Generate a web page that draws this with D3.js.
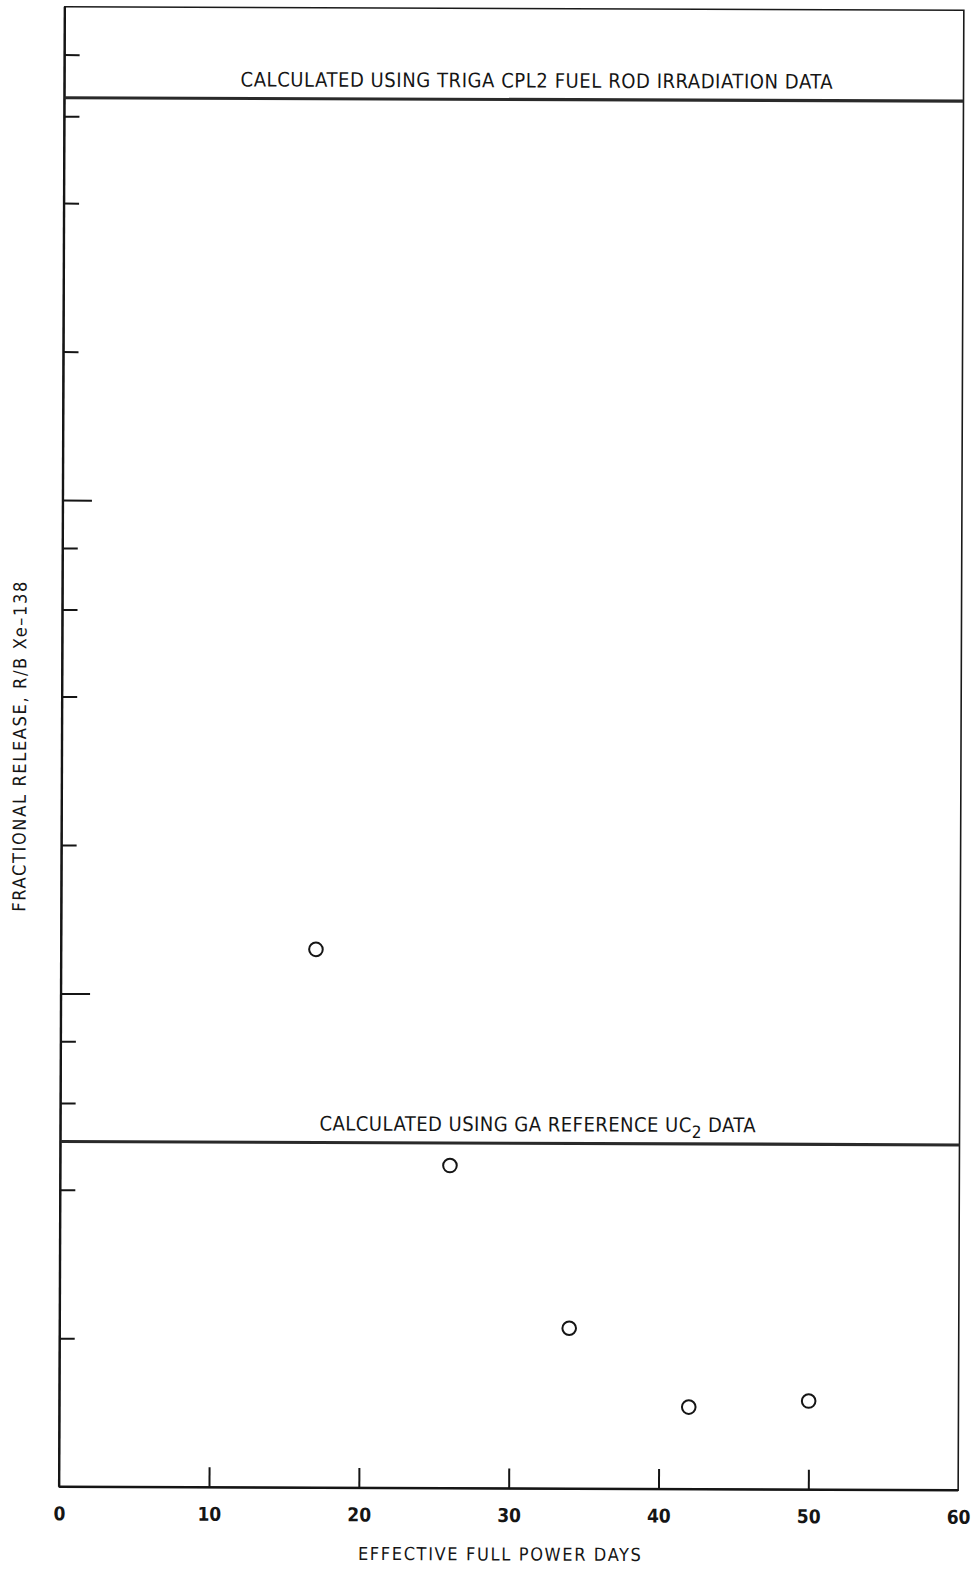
<!DOCTYPE html>
<html>
<head>
<meta charset="utf-8">
<script src="https://cdn.jsdelivr.net/npm/d3@7"></script>
<style>
  body { margin: 0; background: #fff; }
  text { font-family: "DejaVu Sans Condensed", "DejaVu Sans", sans-serif; font-stretch: condensed; fill: #151515; }
  .axis path { display: none; }
  .axis line { stroke: #151515; stroke-width: 2; }
</style>
</head>
<body>
<div id="plot"></div>
<script>
// measured points (effective full power days, R/B Xe-138)
var days = [17, 26, 34, 42, 50];
var release = [1.234e-5, 4.51e-6, 2.115e-6, 1.467e-6, 1.512e-6];

// calculated reference levels
var refLabels = ['CALCULATED USING TRIGA CPL2 FUEL ROD IRRADIATION DATA', 'CALCULATED USING GA REFERENCE UC|2| DATA'];
var refValues = [6.54e-4, 5.01e-6];

var xTicks = [0, 10, 20, 30, 40, 50, 60];
var yMajor = [1e-5, 1e-4];
var yMinor = [2e-6, 4e-6, 6e-6, 8e-6, 2e-5, 4e-5, 6e-5, 8e-5, 2e-4, 4e-4, 6e-4, 8e-4];

var margin = {top: 8.5, left: 62},
    plotWidth = 899,
    plotHeight = 1480,
    width = 973,
    height = 1571;

var xScale = d3.scaleLinear()
    .domain([0, 60])
    .range([0, plotWidth]);

var yScale = d3.scaleLog()
    .domain([1e-6, 1e-3])
    .range([plotHeight, 0]);

var svg = d3.select('#plot')
    .append('svg')
    .attr('width', width)
    .attr('height', height);

// scanned page is slightly skewed
var g = svg.append('g')
    .attr('transform', 'rotate(0.22,510,747) translate(' + margin.left + ',' + margin.top + ')');

// frame
g.append('rect')
    .attr('x', 0)
    .attr('y', 0)
    .attr('width', plotWidth)
    .attr('height', plotHeight)
    .attr('fill', 'none')
    .attr('stroke', '#1a1a1a')
    .attr('stroke-width', 1.6);

g.append('line')
    .attr('x1', 0).attr('y1', 0)
    .attr('x2', 0).attr('y2', plotHeight)
    .attr('stroke', '#151515')
    .attr('stroke-width', 2.4);

g.append('line')
    .attr('x1', 0).attr('y1', plotHeight)
    .attr('x2', plotWidth).attr('y2', plotHeight)
    .attr('stroke', '#151515')
    .attr('stroke-width', 2.4);

g.append('g')
    .classed('axis', true)
    .call(d3.axisLeft(yScale).tickValues(yMinor).tickFormat('').tickSize(-15));

g.append('g')
    .classed('axis', true)
    .call(d3.axisLeft(yScale).tickValues(yMajor).tickFormat('').tickSize(-29));

var xAxis = g.append('g')
    .classed('axis', true)
    .attr('transform', 'translate(0,' + plotHeight + ')')
    .call(d3.axisBottom(xScale).tickValues(xTicks).tickSize(-20).tickPadding(20).tickFormat(d3.format('d')));

xAxis.selectAll('text')
    .style('font-size', '19px')
    .style('font-weight', 'bold')
    .attr('fill', '#151515');

xAxis.selectAll('.tick')
    .filter(function (d) { return d === 0 || d === 60; })
    .select('line')
    .remove();

// reference lines
var refs = g.append('g').classed('refs', true);

refs.selectAll('line')
    .data(refValues)
    .enter()
    .append('line')
    .attr('x1', 0)
    .attr('x2', plotWidth)
    .attr('y1', function (d) { return yScale(d); })
    .attr('y2', function (d) { return yScale(d); })
    .attr('stroke', '#2a2a2a')
    .attr('stroke-width', 3.2);

var titleX = [472, 477];
var titleLen = [592, 436];

refs.selectAll('text')
    .data(refValues)
    .enter()
    .append('text')
    .attr('x', function (d, i) { return titleX[i]; })
    .attr('y', function (d) { return yScale(d) - 12; })
    .attr('text-anchor', 'middle')
    .attr('textLength', function (d, i) { return titleLen[i]; })
    .attr('lengthAdjust', 'spacing')
    .style('font-size', '20px')
    .each(function (d, i) {
        var parts = refLabels[i].split('|');
        var t = d3.select(this);
        parts.forEach(function (p, j) {
            var s = t.append('tspan').text(p);
            if (j === 1) s.attr('dy', 6).style('font-size', '17px');
            if (j === 2) s.attr('dy', -6);
        });
    });

// data points
g.append('g')
    .classed('dots', true)
    .selectAll('circle')
    .data(days)
    .enter()
    .append('circle')
    .attr('cx', function (d) { return xScale(d); })
    .attr('cy', function (d, i) { return yScale(release[i]); })
    .attr('r', 6.8)
    .attr('fill', 'none')
    .attr('stroke', '#151515')
    .attr('stroke-width', 2);

// axis titles
g.append('text')
    .attr('transform', 'translate(' + plotWidth * 0.49 + ',' + (plotHeight + 72) + ')')
    .attr('text-anchor', 'middle')
    .attr('textLength', 283)
    .attr('lengthAdjust', 'spacing')
    .style('font-size', '18px')
    .text('EFFECTIVE FULL POWER DAYS');

g.append('text')
    .attr('transform', 'translate(-36,' + 740 + ') rotate(-90)')
    .attr('text-anchor', 'middle')
    .attr('textLength', 330)
    .attr('lengthAdjust', 'spacing')
    .style('font-size', '18px')
    .text('FRACTIONAL RELEASE,  R/B  Xe\u2013138');
</script>
</body>
</html>
